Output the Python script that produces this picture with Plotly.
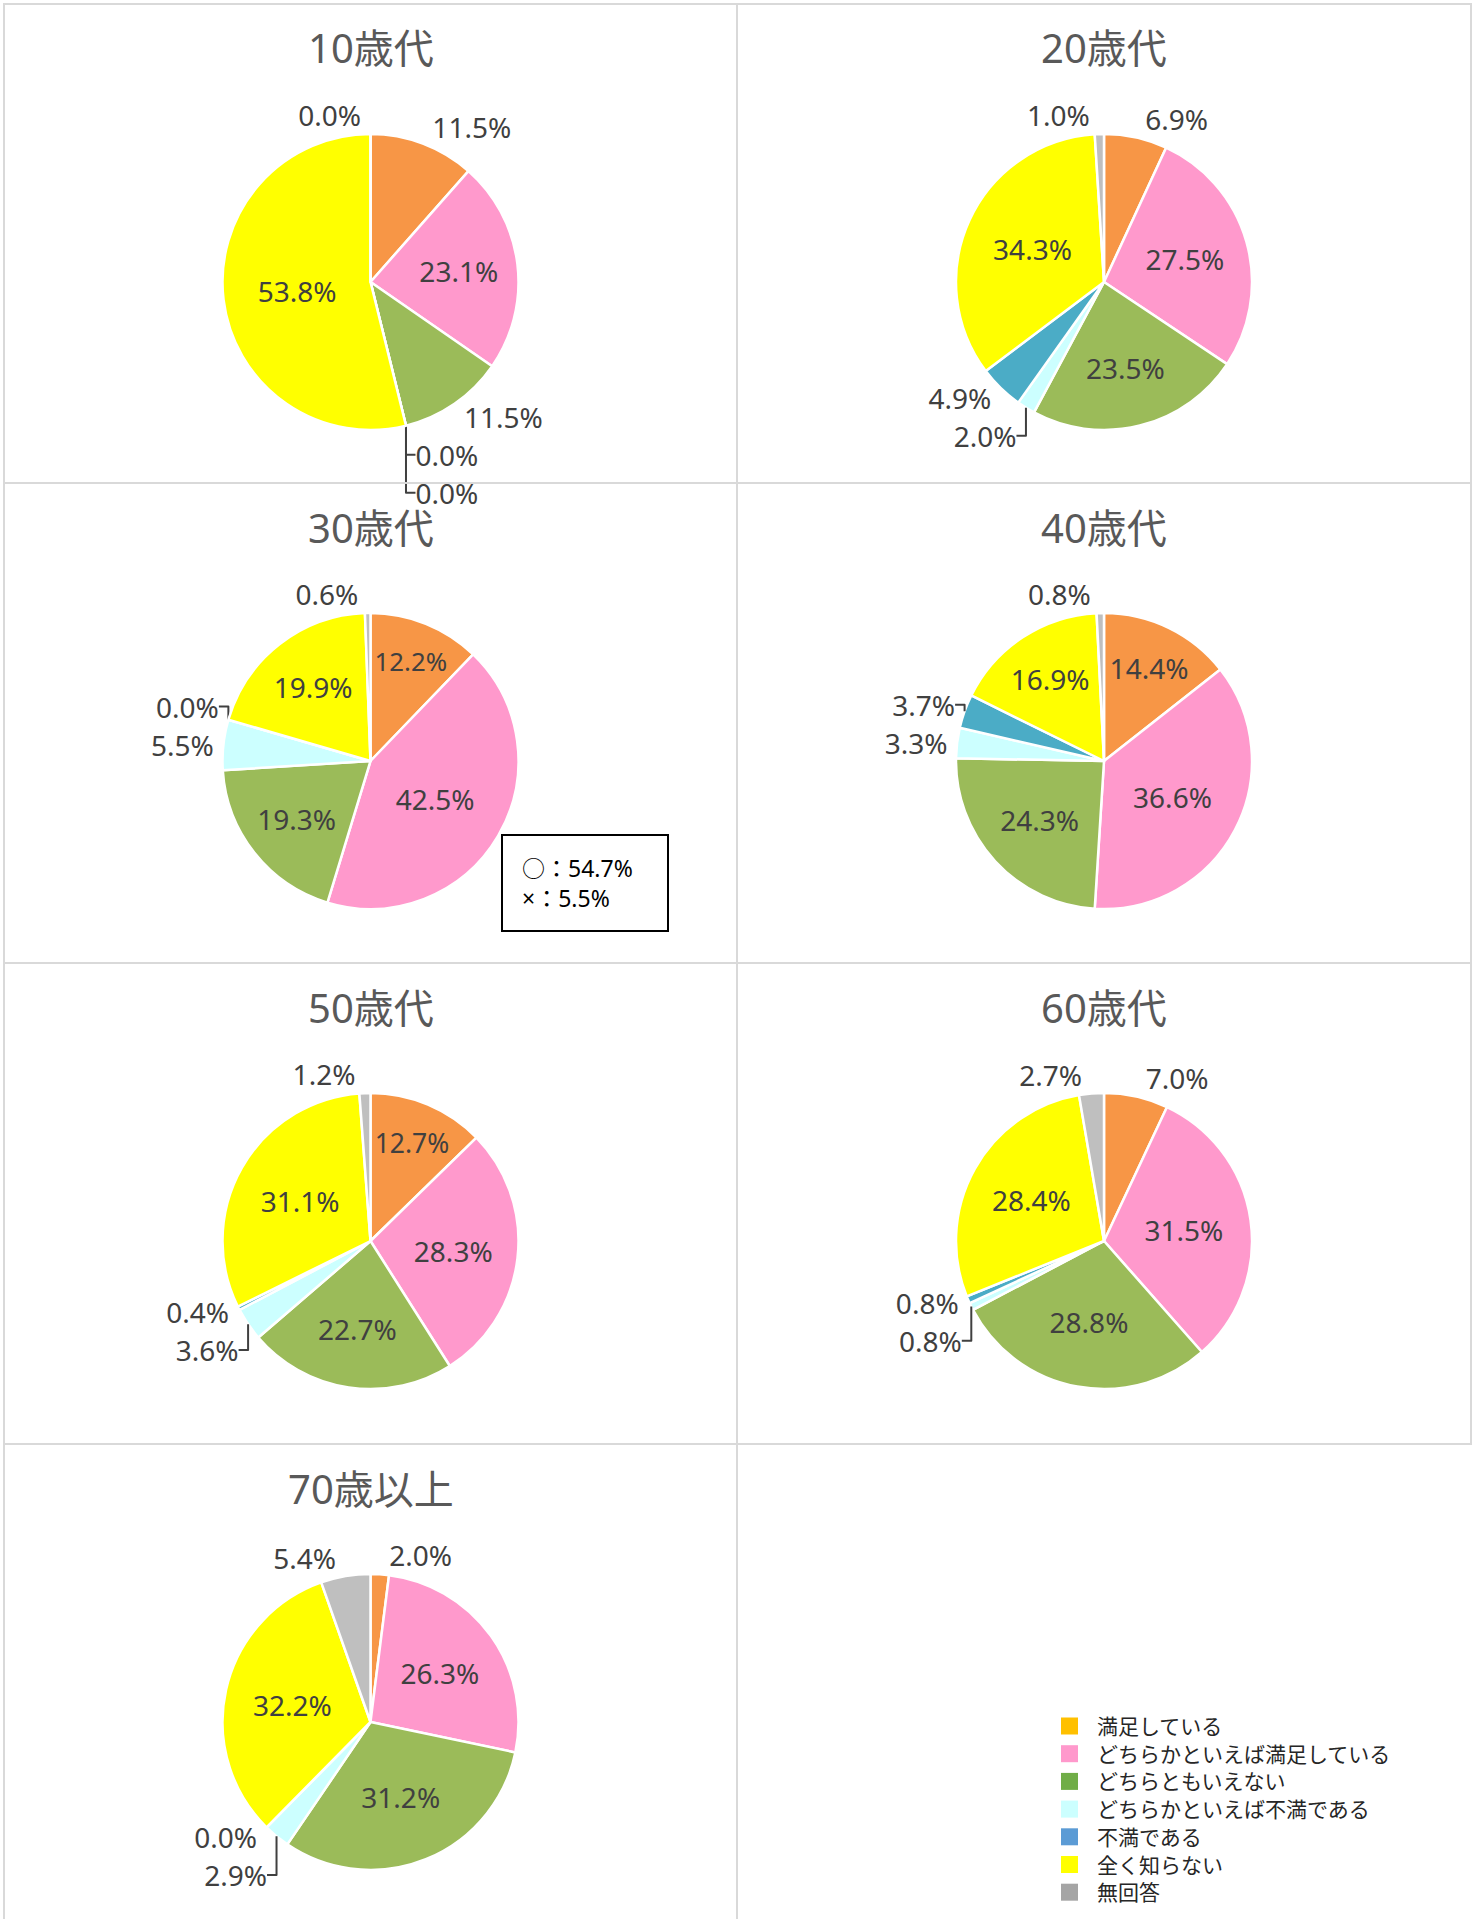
import plotly.graph_objects as go

# 回答カテゴリ
categories = ["満足している", "どちらかといえば満足している", "どちらともいえない",
              "どちらかといえば不満である", "不満である", "全く知らない", "無回答"]

# 年代別の割合(%)
groups = ["10歳代", "20歳代", "30歳代", "40歳代", "50歳代", "60歳代", "70歳以上"]
v10 = [11.5, 23.1, 11.5, 0.0, 0.0, 53.8, 0.0]
v20 = [6.9, 27.5, 23.5, 2.0, 4.9, 34.3, 1.0]
v30 = [12.2, 42.5, 19.3, 5.5, 0.0, 19.9, 0.6]
v40 = [14.4, 36.6, 24.3, 3.3, 3.7, 16.9, 0.8]
v50 = [12.7, 28.3, 22.7, 3.6, 0.4, 31.1, 1.2]
v60 = [7.0, 31.5, 28.8, 0.8, 0.8, 28.4, 2.7]
v70 = [2.0, 26.3, 31.2, 2.9, 0.0, 32.2, 5.4]
values = [v10, v20, v30, v40, v50, v60, v70]

note_30 = ["○：54.7%", "×：5.5%"]

pie_colors = ["#F79646", "#FF99CC", "#9BBB59", "#CCFFFF", "#4BACC6", "#FFFF00", "#BFBFBF"]
legend_colors = ["#FFC000", "#FF99CC", "#70AD47", "#CCFFFF", "#5B9BD5", "#FFFF00", "#A5A5A5"]

W, H = 1480, 1919
FONT = "Noto Sans, Noto Sans CJK JP"


def px(x):
    return x / W


def py(y):
    return 1 - y / H


col_x = [4, 737, 1471]
row_y = [4, 483, 963, 1444, 1919]
R = 148

fig = go.Figure()
shapes = []
annotations = []

for i, (name, vals) in enumerate(zip(groups, values)):
    r, c = divmod(i, 2)
    x0, x1 = col_x[c], col_x[c + 1]
    y0, y1 = row_y[r], row_y[r + 1]
    cx = (x0 + x1) / 2
    cy = y0 + 278
    fig.add_trace(go.Pie(
        labels=categories, values=vals, sort=False, direction="clockwise", rotation=0,
        marker=dict(colors=pie_colors, line=dict(color="white", width=2.5)),
        texttemplate="%{value:.1f}%",
        textposition=["inside" if v >= 12 else "outside" for v in vals],
        insidetextorientation="horizontal",
        textfont=dict(family=FONT, size=28, color="#404040"),
        domain=dict(x=[px(cx - R), px(cx + R)], y=[py(cy + R), py(cy - R)]),
        showlegend=False, hoverinfo="label+value",
    ))
    annotations.append(dict(x=px(cx), y=py(y0 + 44), xref="paper", yref="paper",
                            xanchor="center", yanchor="middle",
                            text=name, showarrow=False,
                            font=dict(family=FONT, size=40, color="#595959")))
    # セル枠
    if r < 3:
        shapes.append(dict(type="rect", xref="paper", yref="paper",
                           x0=px(x0), x1=px(x1), y0=py(y1), y1=py(y0),
                           line=dict(color="#D9D9D9", width=2)))
    else:
        shapes.append(dict(type="path", xref="paper", yref="paper",
                           path=f"M{px(x0)},{py(y1)} L{px(x0)},{py(y0)} L{px(x1)},{py(y0)} L{px(x1)},{py(y1)}",
                           line=dict(color="#D9D9D9", width=2)))

# 30歳代の注記
annotations.append(dict(x=px(585), y=py(883), xref="paper", yref="paper",
                        xanchor="center", yanchor="middle",
                        text="<br>".join(note_30), showarrow=False, align="left",
                        width=126, height=56, borderpad=19,
                        bordercolor="black", borderwidth=2, bgcolor="white",
                        font=dict(family=FONT, size=23, color="black")))

# 凡例
for k, (cat, col) in enumerate(zip(categories, legend_colors)):
    yc = 1726 + 27.7 * k
    shapes.append(dict(type="rect", xref="paper", yref="paper",
                       x0=px(1061), x1=px(1078), y0=py(yc + 8.5), y1=py(yc - 8.5),
                       fillcolor=col, line=dict(width=0)))
    annotations.append(dict(x=px(1095), y=py(yc), xref="paper", yref="paper",
                            text=cat, showarrow=False, xanchor="left", yanchor="middle",
                            font=dict(family=FONT, size=21, color="#262626")))

fig.update_layout(
    width=W, height=H, margin=dict(l=0, r=0, t=0, b=0),
    paper_bgcolor="white", plot_bgcolor="white",
    shapes=shapes, annotations=annotations,
)

# ページ既定の余白を消して図を左上に合わせる
fig.write_html("out.html", config={"displayModeBar": False},
               post_script="document.body.style.margin='0';")
